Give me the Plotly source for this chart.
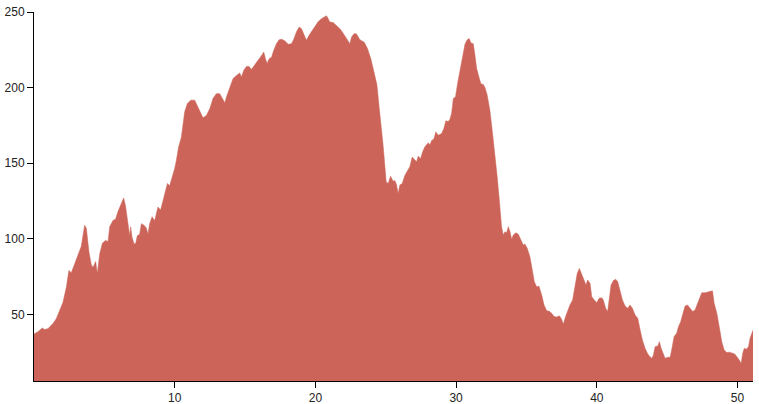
import plotly.graph_objects as go

# Data
x_values = [
    0.0, 0.28, 0.59, 0.75, 0.99, 1.16, 1.35, 1.58, 1.82, 2.06, 2.30, 2.48, 2.65, 2.89, 3.12, 3.36,
    3.60, 3.72, 3.91, 4.07, 4.19, 4.38, 4.50, 4.67, 4.86, 5.09, 5.26, 5.38, 5.61, 5.80, 5.97, 6.21,
    6.37, 6.50, 6.63, 6.80, 6.87, 6.97, 7.11, 7.23, 7.34, 7.51, 7.63, 7.82, 7.99, 8.10, 8.22, 8.39,
    8.58, 8.81, 9.00, 9.12, 9.29, 9.48, 9.64, 9.81, 10.00, 10.12, 10.28, 10.47, 10.59, 10.71, 10.90,
    11.14, 11.42, 11.66, 11.85, 12.01, 12.25, 12.49, 12.73, 12.96, 13.20, 13.39, 13.56, 13.72, 13.91,
    14.15, 14.39, 14.62, 14.74, 14.91, 15.10, 15.29, 15.45, 15.62, 15.81, 16.00, 16.16, 16.33, 16.45,
    16.57, 16.71, 16.88, 17.04, 17.23, 17.42, 17.59, 17.82, 18.06, 18.30, 18.46, 18.65, 18.84, 19.01,
    19.18, 19.36, 19.55, 19.72, 19.96, 20.19, 20.43, 20.67, 20.79, 20.91, 21.02, 21.26, 21.50, 21.74,
    21.97, 22.21, 22.45, 22.57, 22.76, 22.92, 23.16, 23.47, 23.70, 23.94, 24.18, 24.37, 24.53, 24.70,
    24.82, 24.94, 25.03, 25.17, 25.34, 25.53, 25.65, 25.77, 25.88, 26.00, 26.17, 26.36, 26.55, 26.71,
    26.88, 27.02, 27.19, 27.31, 27.47, 27.62, 27.78, 28.02, 28.14, 28.26, 28.42, 28.56, 28.73, 28.97,
    29.13, 29.27, 29.44, 29.56, 29.68, 29.80, 29.96, 30.10, 30.27, 30.46, 30.63, 30.79, 30.93, 31.05,
    31.22, 31.34, 31.46, 31.62, 31.76, 31.93, 32.05, 32.21, 32.40, 32.59, 32.78, 32.92, 33.07, 33.23,
    33.35, 33.47, 33.59, 33.71, 33.83, 33.95, 34.06, 34.25, 34.42, 34.59, 34.77, 34.89, 35.06, 35.25,
    35.41, 35.56, 35.72, 35.89, 36.08, 36.25, 36.44, 36.62, 36.79, 36.96, 37.15, 37.34, 37.50, 37.62,
    37.78, 37.93, 38.09, 38.28, 38.45, 38.61, 38.76, 38.92, 39.09, 39.23, 39.35, 39.52, 39.64, 39.82,
    39.99, 40.16, 40.35, 40.46, 40.63, 40.77, 40.87, 41.01, 41.18, 41.34, 41.49, 41.65, 41.82, 42.01,
    42.20, 42.36, 42.53, 42.72, 42.91, 43.08, 43.24, 43.43, 43.62, 43.78, 43.90, 44.02, 44.14, 44.33,
    44.45, 44.57, 44.73, 44.85, 45.04, 45.21, 45.32, 45.49, 45.68, 45.80, 45.96, 46.11, 46.27, 46.44,
    46.63, 46.82, 46.98, 47.15, 47.34, 47.46, 47.70, 47.93, 48.10, 48.22, 48.34, 48.53, 48.72, 48.88,
    49.05, 49.24, 49.43, 49.56, 49.80, 50.04, 50.26, 50.37, 50.48, 50.62, 50.78, 50.89, 51.06, 51.10,
]

y_values = [
    37, 38.5, 41, 40, 40.5, 42, 44, 47, 52, 58, 68, 79, 77.5, 83, 89, 95,
    109, 107, 91, 83, 81, 85, 77, 90, 97, 99, 98, 108, 112, 113, 118, 124,
    127, 122, 112, 102, 108, 101, 96.5, 97, 102, 103, 110, 109, 107, 103, 110, 114.5,
    112, 121, 119, 123, 129, 136.6, 135, 140, 146.5, 152, 160.8, 167, 176, 184, 189.5,
    191.7, 191.7, 187, 183, 180, 181.5, 186, 193, 196, 196, 193, 190, 195, 200.5,
    206, 208, 209.7, 207, 211.5, 214, 214, 212, 214, 216, 219, 221, 223.5, 219,
    216, 219, 220, 224.7, 229, 231.6, 232, 231, 228.7, 229, 232, 236.8, 240, 239,
    235.7, 231.3, 234.6, 236.8, 240, 243.5, 245.6, 247, 247.5, 245.6, 243.4, 243, 241, 239,
    236, 232.4, 229, 233.5, 235.7, 235.5, 231.7, 230, 225.8, 219, 210, 202, 187, 174,
    161, 147.6, 137.7, 136.6, 141.4, 138, 138.5, 135.5, 130, 135.5, 136.6, 142, 145.4, 147.6,
    154, 152.5, 151, 154.7, 153, 157.5, 160.8, 163.5, 162, 165, 166, 170.7, 168.5, 169.6,
    173, 178, 177.5, 179, 183, 192.8, 194, 202.6, 211.5, 222.5, 228.7, 231.7, 232.4, 229.6,
    229, 221.4, 212.6, 207, 202.6, 202, 200, 195, 185, 169.6, 154, 141, 125.6, 108,
    102.4, 104.6, 104, 108, 104.6, 99.6, 102.4, 104, 103, 99.6, 95.8, 96.5, 93.6, 88,
    80.4, 71.6, 68.3, 68.6, 62.8, 56.2, 52.4, 52, 50.7, 48.5, 48.2, 49, 46.7, 43.4,
    48.5, 52.9, 56.2, 59.5, 68.3, 77.1, 80.4, 77.1, 72.7, 69.4, 72.7, 70.5, 61.7, 59.5,
    57.7, 60.6, 61, 59.5, 54, 51.8, 60.6, 69.4, 72.3, 73.2, 71.5, 66.1, 59.5, 55.5,
    54, 56.2, 54, 49.6, 47.4, 39.7, 33, 27.5, 23.8, 22, 20.9, 23, 28.6, 29,
    31.9, 27.5, 23.1, 21, 21.6, 21.6, 26.4, 35.2, 37.6, 41.8, 45.1, 50.7, 55.5, 56.2,
    54, 51.8, 52.9, 57.3, 62.1, 64.3, 64.3, 65, 65.6, 65.6, 57.3, 50.7, 40.8, 31.9,
    26.4, 24.7, 25, 24.7, 23.8, 20.9, 17.6, 24.2, 27.5, 26.9, 28.6, 34.2, 38.5, 39.5,
]

y_ticks = [50, 100, 150, 200, 250]
x_ticks = [10, 20, 30, 40, 50]

AREA_COLOR = "#CD6459"

fig = go.Figure()
fig.add_trace(go.Scatter(
    x=x_values,
    y=y_values,
    mode="lines",
    fill="tozeroy",
    fillcolor=AREA_COLOR,
    line=dict(color=AREA_COLOR, width=0.5, shape="linear"),
    hoverinfo="x+y",
    showlegend=False,
))

axis_font = dict(family="Liberation Sans, Arial, sans-serif", size=12, color="#222222")

common_axis = dict(
    tickmode="array",
    ticks="outside",
    ticklen=6,
    tickwidth=1,
    tickcolor="black",
    showline=True,
    linecolor="black",
    linewidth=1,
    showgrid=False,
    zeroline=False,
    tickfont=axis_font,
    automargin=False,
)

fig.update_layout(
    width=759,
    height=404,
    margin=dict(l=34, r=6, t=12, b=23, autoexpand=False),
    paper_bgcolor="white",
    plot_bgcolor="white",
    font=axis_font,
    xaxis=dict(
        range=[0, 51.1],
        tickvals=x_ticks,
        ticktext=[str(t) for t in x_ticks],
        **common_axis,
    ),
    yaxis=dict(
        range=[5.9, 250],
        tickvals=y_ticks,
        ticktext=[str(t) for t in y_ticks],
        **common_axis,
    ),
)

fig.write_html(
    "out.html",
    config={"displayModeBar": False},
    post_script="document.body.style.margin='0';document.body.style.overflow='hidden';",
)
